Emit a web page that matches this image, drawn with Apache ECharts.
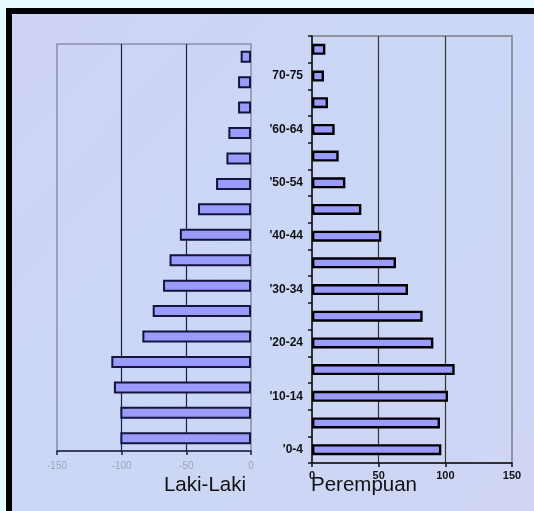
<!DOCTYPE html>
<html>
<head>
<meta charset="utf-8">
<script src="https://cdn.jsdelivr.net/npm/echarts@6/dist/echarts.min.js"></script>
<style>
html,body{margin:0;padding:0;background:#e4fbff;}
#c{width:534px;height:511px;}
</style>
</head>
<body>
<div id="c"></div>
<script>
// Age groups, bottom to top
const categories = ["'0-4","'5-9","'10-14","'15-19","'20-24","'25-29","'30-34","'35-39","'40-44","'45-49","'50-54","'55-59","'60-64","'65-69","70-75","75+"];
// Laki-Laki (male), drawn to the left as negative values
const maleValues = [-101, -101, -106, -108, -84, -76, -68, -63, -55, -41, -27, -19, -17.5, -10, -10, -8];
// Perempuan (female)
const femaleValues = [97, 96, 102, 107, 91, 83, 72, 63, 52, 37, 25, 20, 17, 12, 9, 10];
const maleTicks = [-150, -100, -50, 0];
const femaleTicks = [0, 50, 100, 150];
const titleMale = 'Laki-Laki';
const titleFemale = 'Perempuan';

const chart = echarts.init(document.getElementById('c'), null, {renderer: 'canvas'});
const font = '"Liberation Sans", Arial, sans-serif';

const option = {
  animation: false,
  backgroundColor: '#e4fbff',
  graphic: [
    {type: 'rect', z: -10, silent: true, shape: {x: 6, y: 8, width: 540, height: 520}, style: {fill: '#000'}},
    {type: 'rect', z: -9, silent: true, shape: {x: 12, y: 14, width: 530, height: 510},
     style: {fill: {type: 'linear', x: 0, y: 0, x2: 1, y2: 1, colorStops: [
       {offset: 0, color: '#cfd3f6'}, {offset: 0.5, color: '#cad7f6'}, {offset: 1, color: '#d1d5f4'}]}}},
    {type: 'text', z: 10, style: {text: titleMale, x: 246, y: 485, align: 'right', verticalAlign: 'middle', fontSize: 20.5, fontFamily: font, fill: '#111'}},
    {type: 'text', z: 10, style: {text: titleFemale, x: 311, y: 485, align: 'left', verticalAlign: 'middle', fontSize: 20.5, fontFamily: font, fill: '#111'}}
  ],
  grid: [
    {left: 57, right: 283, top: 44, bottom: 60, show: true, borderColor: '#8a8fa8', borderWidth: 1.5, backgroundColor: 'transparent', containLabel: false},
    {left: 312, right: 22, top: 36, bottom: 48, show: true, borderColor: '#7f7f7f', borderWidth: 1.5, backgroundColor: 'transparent', containLabel: false}
  ],
  xAxis: [
    {gridIndex: 0, type: 'value', min: maleTicks[0], max: maleTicks[maleTicks.length - 1], interval: 50,
     axisLine: {show: true, lineStyle: {color: '#1c1c4a', width: 1.5}},
     axisTick: {show: true, length: 4, lineStyle: {color: '#1c1c4a', width: 1.5}},
     axisLabel: {color: '#a0a4b6', fontSize: 10, fontFamily: font, margin: 10},
     splitLine: {show: true, showMinLine: false, showMaxLine: false, lineStyle: {color: '#1c1c4a', width: 1.2}}},
    {gridIndex: 1, type: 'value', min: femaleTicks[0], max: femaleTicks[femaleTicks.length - 1], interval: 50,
     axisLine: {show: true, lineStyle: {color: '#111', width: 1.5}},
     axisTick: {show: true, length: 4, lineStyle: {color: '#111', width: 1.5}},
     axisLabel: {color: '#111', fontSize: 11, fontWeight: 'bold', fontFamily: font, margin: 7},
     splitLine: {show: true, showMinLine: false, showMaxLine: false, lineStyle: {color: '#333', width: 1.2}}}
  ],
  yAxis: [
    {gridIndex: 0, type: 'category', data: categories,
     axisLine: {show: false}, axisTick: {show: false}, axisLabel: {show: false}, splitLine: {show: false}},
    {gridIndex: 1, type: 'category', data: categories,
     axisLine: {show: true, lineStyle: {color: '#111', width: 1.5}},
     axisTick: {show: true, interval: 0, length: 4, lineStyle: {color: '#111', width: 1.5}},
     axisLabel: {interval: 1, color: '#111', fontSize: 12, fontWeight: 'bold', fontFamily: font, margin: 9},
     splitLine: {show: false}}
  ],
  series: [
    {type: 'bar', xAxisIndex: 0, yAxisIndex: 0, data: maleValues, barWidth: 12,
     itemStyle: {color: '#9b9bfb', borderColor: '#14143c', borderWidth: 2}},
    {type: 'bar', xAxisIndex: 1, yAxisIndex: 1, data: femaleValues, barWidth: 11,
     itemStyle: {color: '#9b9bfb', borderColor: '#000', borderWidth: 2.4}}
  ]
};
chart.setOption(option);
</script>
</body>
</html>
